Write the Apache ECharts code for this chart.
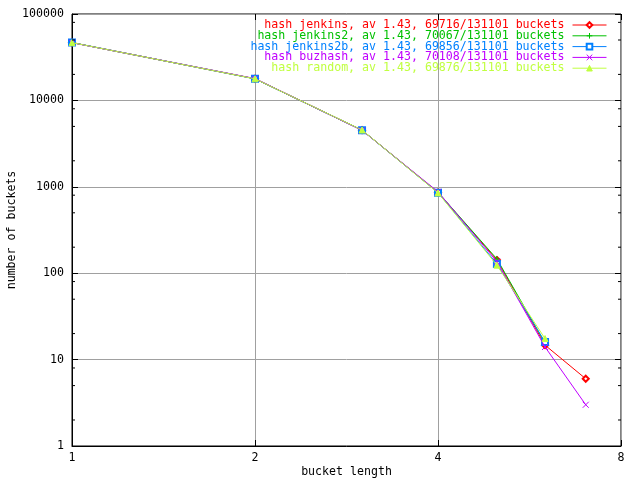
<!DOCTYPE html>
<html><head><meta charset="utf-8">
<script src="https://cdn.jsdelivr.net/npm/echarts@6/dist/echarts.min.js"></script>
<style>html,body{margin:0;padding:0;background:#fff}#c{width:640px;height:480px}</style>
</head><body><div id="c"></div>
<script>
const bucketLengths = [1, 2, 3, 4, 5, 6, 7];
const jenkins   = [46600, 17800, 4520, 860, 142, 14.7, 6];
const jenkins2  = [46700, 17750, 4530, 865, 146, 15.5];
const jenkins2b = [46650, 17800, 4510, 855, 128, 16];
const buzhash   = [46500, 17900, 4500, 875, 136, 14, 3];
const random    = [46600, 17780, 4540, 850, 124, 17.5];
const seriesNames = [
  'hash jenkins, av 1.43, 69716/131101 buckets',
  'hash jenkins2, av 1.43, 70067/131101 buckets',
  'hash jenkins2b, av 1.43, 69856/131101 buckets',
  'hash buzhash, av 1.43, 70108/131101 buckets',
  'hash random, av 1.43, 69876/131101 buckets'
];
const seriesValues = [jenkins, jenkins2, jenkins2b, buzhash, random];
const seriesColors = ['#ff0000', '#00c000', '#0080ff', '#c000ff', '#c0ff40'];
const seriesSymbols = ['emptyDiamond', 'path://M5,0L5,10M0,5L10,5', 'emptyRect', 'path://M0,0L10,10M0,10L10,0', 'triangle'];
const xTickLabels = [1, 2, 4, 8];
const yTickLabels = [1, 10, 100, 1000, 10000, 100000];
const yMinorMultipliers = [2, 5, 8];

const FONT = 'DejaVu Sans Mono';
const FS = 11.6;

const minorVals = [];
for (let d = 1; d < 100000; d *= 10) yMinorMultipliers.forEach(m => minorVals.push(d * m));

const series = seriesValues.map((vals, i) => ({
  name: seriesNames[i],
  type: 'line',
  data: vals.map((v, k) => [bucketLengths[k], v]),
  symbol: seriesSymbols[i],
  symbolSize: 6,
  showSymbol: true,
  color: seriesColors[i],
  lineStyle: { width: 1, color: seriesColors[i] },
  itemStyle: { color: seriesColors[i], borderColor: seriesColors[i], borderWidth: 1 },
  animation: false,
  z: 3 + i
}));

series.push({
  type: 'custom',
  name: 'minorTicks',
  silent: true,
  data: minorVals.map(v => [1, v]),
  encode: { x: 0, y: 1 },
  renderItem: function (params, api) {
    const v = api.value(1);
    const p = api.coord([xTickLabels[0], v]);
    const q = api.coord([xTickLabels[xTickLabels.length - 1], v]);
    return {
      type: 'group',
      children: [
        { type: 'line', shape: { x1: p[0], y1: p[1], x2: p[0] + 3, y2: p[1] }, style: { stroke: '#000', lineWidth: 1 } },
        { type: 'line', shape: { x1: q[0] - 3, y1: q[1], x2: q[0], y2: q[1] }, style: { stroke: '#000', lineWidth: 1 } }
      ]
    };
  },
  z: 10,
  animation: false
});

const xBase = {
  type: 'log', logBase: 2, min: xTickLabels[0], max: xTickLabels[xTickLabels.length - 1],
  splitNumber: 3
};
const yBase = {
  type: 'log', logBase: 10, min: yTickLabels[0], max: yTickLabels[yTickLabels.length - 1]
};

const option = {
  backgroundColor: '#fff',
  animation: false,
  textStyle: { fontFamily: FONT },
  grid: { left: 72, right: 19, top: 14, bottom: 34, containLabel: false, outerBoundsMode: 'none',
    show: true, borderColor: '#000', borderWidth: 1, backgroundColor: 'transparent' },
  legend: {
    orient: 'vertical',
    right: 33,
    top: 19,
    padding: 0,
    align: 'right',
    itemWidth: 34,
    itemHeight: 7,
    itemGap: -1.2,
    lineStyle: { width: 1 },
    itemStyle: { borderWidth: 1 },
    textStyle: { fontFamily: FONT, fontSize: FS, lineHeight: 11, padding: [0, 3, 0, 0] },
    data: seriesNames.map((n, i) => ({ name: n, textStyle: { color: seriesColors[i] } }))
  },
  xAxis: [
    Object.assign({}, xBase, {
      position: 'bottom',
      name: 'bucket length', nameLocation: 'middle', nameGap: 20, nameMoveOverlap: false,
      nameTextStyle: { fontFamily: FONT, fontSize: FS, color: '#000' },
      axisLine: { show: true, lineStyle: { color: '#000', width: 1 } },
      axisTick: { show: true, inside: true, length: 6, lineStyle: { color: '#000' } },
      axisLabel: { show: true, margin: 6, fontFamily: FONT, fontSize: FS, color: '#000',
        formatter: v => String(Math.round(v)) },
      splitLine: { show: true, lineStyle: { color: '#a0a0a0', width: 1 } }
    }),
    Object.assign({}, xBase, {
      position: 'top',
      axisLine: { show: false },
      axisTick: { show: true, inside: true, length: 6, lineStyle: { color: '#000' } },
      axisLabel: { show: false },
      splitLine: { show: false }
    })
  ],
  yAxis: [
    Object.assign({}, yBase, {
      position: 'left',
      name: 'number of buckets', nameLocation: 'middle', nameGap: 54, nameRotate: 90, nameMoveOverlap: false,
      nameTextStyle: { fontFamily: FONT, fontSize: FS, color: '#000' },
      axisLine: { show: true, lineStyle: { color: '#000', width: 1 } },
      axisTick: { show: true, inside: true, length: 6, lineStyle: { color: '#000' } },
      axisLabel: { show: true, margin: 8, fontFamily: FONT, fontSize: FS, color: '#000',
        formatter: v => String(Math.round(v)) },
      splitLine: { show: true, lineStyle: { color: '#a0a0a0', width: 1 } }
    }),
    Object.assign({}, yBase, {
      position: 'right',
      axisLine: { show: false },
      axisTick: { show: true, inside: true, length: 6, lineStyle: { color: '#000' } },
      axisLabel: { show: false },
      splitLine: { show: false }
    })
  ],
  series: series
};

const chart = echarts.init(document.getElementById('c'), null, { renderer: 'canvas' });
chart.setOption(option);
</script>
</body></html>
